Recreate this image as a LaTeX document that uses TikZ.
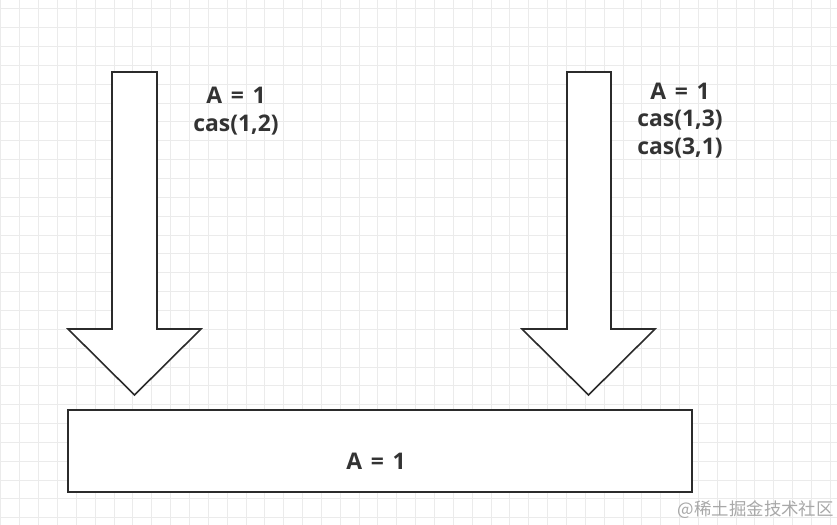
\documentclass[tikz,border=0pt]{standalone}
\usepackage{fontspec}
\setmainfont{Open Sans}
\newfontfamily\cjk{Noto Sans CJK SC}
\definecolor{gridc}{HTML}{EBEBEB}
\definecolor{inkc}{HTML}{2B2B2B}
\definecolor{txtc}{HTML}{333333}
\definecolor{wmc}{HTML}{A8A8A8}
\newcommand{\aeq}{A\hspace{0.38em}=\hspace{0.38em}1}
\begin{document}
\begin{tikzpicture}[x=1bp,y=-1bp,
  outl/.style={draw=inkc,line width=1.6bp,fill=white,line join=miter},
  lbl/.style={text=txtc,font=\fontsize{23}{28}\selectfont\bfseries,align=center,inner sep=0pt}]
\useasboundingbox (0,0) rectangle (837,525);
\fill[white] (0,0) rectangle (837,525);
% grid
\foreach \i in {0,...,44} {
  \draw[gridc,line width=0.9bp] ({18.85*\i+0.9},0) -- ({18.85*\i+0.9},525);
}
\foreach \j in {0,...,28} {
  \draw[gridc,line width=0.9bp] (0,{18.85*\j+8.8}) -- (837,{18.85*\j+8.8});
}
% left arrow
\draw[outl] (112,72) -- (157,72) -- (157,329) -- (201,329) -- (134.5,395) -- (68,329) -- (112,329) -- cycle;
% right arrow
\draw[outl] (567,72) -- (611,72) -- (611,329) -- (655,329) -- (588.5,395) -- (522,329) -- (567,329) -- cycle;
% box
\node[outl,minimum width=624bp,minimum height=82bp,inner sep=0pt] (box) at (380,451) {};
\node[lbl] (boxt) at (376,461) {\aeq};
\node[lbl] (l1) at (236,111) {\aeq\\cas(1,2)};
\node[lbl] (l2) at (680,120.5) {\aeq\\cas(1,3)\\cas(3,1)};
\node[text=wmc,font=\cjk\fontsize{17.5}{20}\selectfont,inner sep=0pt,anchor=east] (wm) at (834,510) {@稀土掘金技术社区};
\end{tikzpicture}
\end{document}
